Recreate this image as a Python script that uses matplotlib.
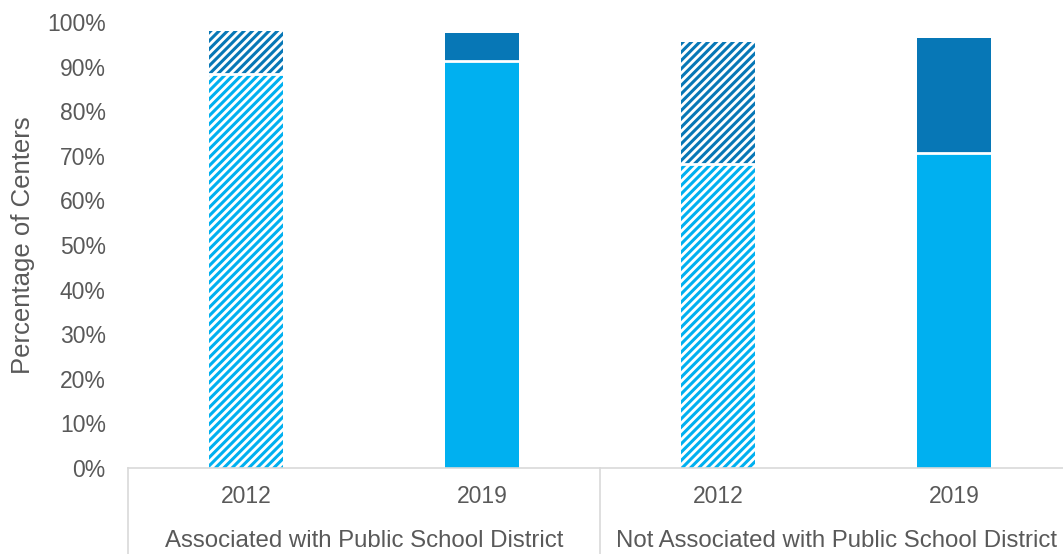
import matplotlib.pyplot as plt
from matplotlib.ticker import PercentFormatter

plt.rcParams['font.family'] = ['Liberation Sans', 'DejaVu Sans']
plt.rcParams['hatch.linewidth'] = 2.2

groups = ['Associated with Public School District', 'Not Associated with Public School District']
years = ['2012', '2019', '2012', '2019']
bottom_vals = [88.3, 91.3, 68.2, 70.6]
top_vals = [9.7, 6.2, 27.3, 25.8]
hatched = [True, False, True, False]

light = '#00B0F0'
dark = '#0777B6'
gray = '#595959'
grid = '#D9D9D9'

fig = plt.figure(figsize=(10.63, 5.54), dpi=100)
# axes run a little past the right edge, as in the reference
ax = fig.add_axes([128 / 1063, 1 - 468 / 554, 944 / 1063, (468 - 22) / 554])

x = list(range(len(years)))
w = 0.315
for i in x:
    if hatched[i]:
        ax.bar(i, bottom_vals[i], w, color='white', edgecolor=light, hatch='////', linewidth=0)
        ax.bar(i, top_vals[i], w, bottom=bottom_vals[i], color='white', edgecolor=dark, hatch='////', linewidth=0)
    else:
        ax.bar(i, bottom_vals[i], w, color=light, linewidth=0)
        ax.bar(i, top_vals[i], w, bottom=bottom_vals[i], color=dark, linewidth=0)
    # white separator between segments
    ax.plot([i - w / 2, i + w / 2], [bottom_vals[i], bottom_vals[i]], color='white', lw=2)

ax.set_xlim(-0.5, 3.5)
ax.set_ylim(0, 100)
ax.set_yticks(range(0, 101, 10))
ax.yaxis.set_major_formatter(PercentFormatter(decimals=0))
ax.tick_params(axis='y', length=0, labelsize=16.5, labelcolor=gray, pad=16)
ax.tick_params(axis='x', length=0, labelbottom=False)
for s in ['top', 'right', 'left']:
    ax.spines[s].set_visible(False)
ax.spines['bottom'].set_color(grid)
ax.spines['bottom'].set_linewidth(1.2)
ax.set_ylabel('Percentage of Centers', fontsize=18.5, color=gray, labelpad=9)

# category axis with group separators
for i in x:
    ax.text(i, -6.5, years[i], ha='center', va='center', fontsize=16.5, color=gray, clip_on=False)
for g, name in enumerate(groups):
    ax.text(2 * g + 0.5, -16.4, name, ha='center', va='center', fontsize=17.3, color=gray, clip_on=False)
for xs in [-0.5, 1.5, 3.5]:
    ax.plot([xs, xs], [0, -20], color=grid, lw=1.2, clip_on=False)

fig.savefig('out.png', dpi=100)
